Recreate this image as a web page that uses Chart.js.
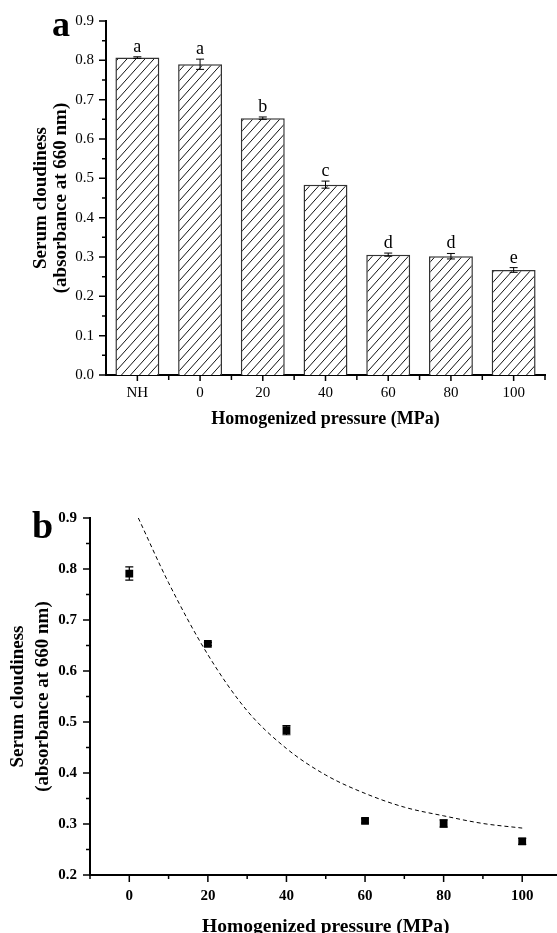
<!DOCTYPE html>
<html>
<head>
<meta charset="utf-8">
<script src="https://cdn.jsdelivr.net/npm/chart.js@4.4.1/dist/chart.umd.min.js"></script>
<style>
  html, body { margin: 0; padding: 0; background: #fff; overflow: hidden; }
  #wrap { position: relative; width: 557px; height: 933px; overflow: hidden; }
  canvas { position: absolute; left: 0; display: block; }
  #chartA { top: 0; }
  #chartB { top: 450px; }
</style>
</head>
<body>
<div id="wrap">
  <canvas id="chartA" width="557" height="450"></canvas>
  <canvas id="chartB" width="567" height="500"></canvas>
</div>
<script>
// panel a - bars
const categories = ['NH', '0', '20', '40', '60', '80', '100']
const cloudiness = [0.807, 0.790, 0.653, 0.484, 0.306, 0.302, 0.267]
const cloudinessErr = [0.002, 0.013, 0.003, 0.009, 0.004, 0.007, 0.006]
const letters = ['a', 'a', 'b', 'c', 'd', 'd', 'e']

// panel b - points + fitted curve
const pressure = [0, 20, 40, 60, 80, 100]
const cloudinessB = [0.791, 0.653, 0.484, 0.306, 0.301, 0.266]
const cloudinessBErr = [0.013, 0.003, 0.009, 0.004, 0.007, 0.006]
const fitX = [2.3, 10, 20, 30, 40, 50, 60, 70, 80, 90, 100]
const fitY = [0.900, 0.773, 0.632, 0.522, 0.448, 0.396, 0.360, 0.333, 0.316, 0.301, 0.292]
const pressureTicks = [0, 20, 40, 60, 80, 100]

const serif = "'Liberation Serif', 'Times New Roman', serif"

// hatch pattern for the bars
const tile = document.createElement('canvas')
tile.width = 9
tile.height = 10
const tctx = tile.getContext('2d')
tctx.fillStyle = '#fff'
tctx.fillRect(0, 0, 9, 10)
tctx.strokeStyle = '#111'
tctx.lineWidth = 1
tctx.beginPath()
tctx.moveTo(0, 10); tctx.lineTo(9, 0)
tctx.moveTo(-9, 10); tctx.lineTo(0, 0)
tctx.moveTo(9, 10); tctx.lineTo(18, 0)
tctx.stroke()

const ctxA = document.getElementById('chartA').getContext('2d')
const hatch = ctxA.createPattern(tile, 'repeat')

const line = (ctx, x1, y1, x2, y2) => { ctx.moveTo(x1, y1); ctx.lineTo(x2, y2) }

const decorA = {
  id: 'decorA',
  afterDatasetsDraw(chart) {
    const ctx = chart.ctx
    const xs = chart.scales.x, ys = chart.scales.y
    ctx.save()
    ctx.strokeStyle = '#000'
    ctx.lineWidth = 1.5
    ctx.beginPath()
    // y ticks
    for (let v = 0; v <= 9; v++) {
      const y = ys.getPixelForValue(v / 10)
      line(ctx, xs.left, y, xs.left - 7, y)
      if (v < 9) {
        const ym = ys.getPixelForValue(v / 10 + 0.05)
        line(ctx, xs.left, ym, xs.left - 4, ym)
      }
    }
    // x ticks
    categories.forEach((c, i) => {
      const x = xs.getPixelForValue(i)
      line(ctx, x, ys.bottom, x, ys.bottom + 6)
      const xb = xs.getPixelForValue(i + 0.5)
      line(ctx, xb, ys.bottom, xb, ys.bottom + 5)
    })
    ctx.stroke()

    // error bars + letters
    ctx.lineWidth = 1
    ctx.beginPath()
    cloudiness.forEach((v, i) => {
      const x = xs.getPixelForValue(i)
      const yt = ys.getPixelForValue(v + cloudinessErr[i])
      const yb = ys.getPixelForValue(v - cloudinessErr[i])
      line(ctx, x, yt, x, yb)
      line(ctx, x - 4, yt, x + 4, yt)
      line(ctx, x - 4, yb, x + 4, yb)
    })
    ctx.stroke()
    ctx.fillStyle = '#000'
    ctx.font = '18px ' + serif
    ctx.textAlign = 'center'
    ctx.textBaseline = 'alphabetic'
    letters.forEach((l, i) => {
      const x = xs.getPixelForValue(i)
      const yt = ys.getPixelForValue(cloudiness[i] + cloudinessErr[i])
      ctx.fillText(l, x, yt - 5)
    })
    // panel label
    ctx.textAlign = 'left'
    ctx.font = 'bold 36px ' + serif
    ctx.fillText('a', 52, 36)
    ctx.restore()
  }
}

new Chart(ctxA, {
  type: 'bar',
  data: {
    labels: categories,
    datasets: [{
      data: cloudiness,
      backgroundColor: hatch,
      borderColor: '#333',
      borderWidth: 1.5,
      barPercentage: 0.7,
      categoryPercentage: 1
    }]
  },
  options: {
    responsive: false,
    animation: false,
    layout: { padding: { top: 15, right: 12, left: 0, bottom: 0 } },
    plugins: { legend: { display: false }, tooltip: { enabled: false } },
    scales: {
      x: {
        grid: { display: false, drawTicks: false },
        border: { color: '#000', width: 2 },
        ticks: { color: '#000', font: { family: serif, size: 15 }, padding: 9 },
        title: {
          display: true, text: 'Homogenized pressure (MPa)', color: '#000',
          font: { family: serif, size: 18, weight: 'bold' },
          padding: { top: 0, bottom: 20 }
        },
        afterFit: s => { s.height = 75 }
      },
      y: {
        min: 0, max: 0.9,
        grid: { display: false, drawTicks: false },
        border: { color: '#000', width: 2 },
        ticks: {
          stepSize: 0.1, color: '#000', padding: 12,
          font: { family: serif, size: 15 },
          callback: v => v.toFixed(1)
        },
        title: {
          display: true, text: ['Serum cloudiness', '(absorbance at 660 nm)'], color: '#000',
          font: { family: serif, size: 19, weight: 'bold', lineHeight: 1.05 },
          padding: { top: 31, bottom: 0 }
        },
        afterFit: s => { s.width = 106 }
      }
    }
  },
  plugins: [decorA]
})

const decorB = {
  id: 'decorB',
  afterDatasetsDraw(chart) {
    const ctx = chart.ctx
    const xs = chart.scales.x, ys = chart.scales.y
    ctx.save()
    ctx.strokeStyle = '#000'
    ctx.lineWidth = 1.5
    ctx.beginPath()
    for (let v = 2; v <= 9; v++) {
      const y = ys.getPixelForValue(v / 10)
      line(ctx, xs.left, y, xs.left - 7, y)
      if (v < 9) {
        const ym = ys.getPixelForValue(v / 10 + 0.05)
        line(ctx, xs.left, ym, xs.left - 4, ym)
      }
    }
    for (let v = -10; v <= 110; v += 10) {
      const x = xs.getPixelForValue(v)
      line(ctx, x, ys.bottom, x, ys.bottom + (v % 20 === 0 ? 7 : 4))
    }
    ctx.stroke()

    ctx.lineWidth = 1.2
    ctx.beginPath()
    cloudinessB.forEach((v, i) => {
      const x = xs.getPixelForValue(pressure[i])
      const yt = ys.getPixelForValue(v + cloudinessBErr[i])
      const yb = ys.getPixelForValue(v - cloudinessBErr[i])
      line(ctx, x, yt, x, yb)
      line(ctx, x - 4, yt, x + 4, yt)
      line(ctx, x - 4, yb, x + 4, yb)
    })
    ctx.stroke()

    ctx.fillStyle = '#000'
    ctx.textAlign = 'left'
    ctx.textBaseline = 'alphabetic'
    ctx.font = 'bold 38px ' + serif
    ctx.fillText('b', 32, 88)
    ctx.restore()
  }
}

new Chart(document.getElementById('chartB').getContext('2d'), {
  type: 'scatter',
  data: {
    datasets: [
      {
        type: 'line',
        data: fitX.map((x, i) => ({ x: x, y: fitY[i] })),
        borderColor: '#000',
        borderWidth: 1,
        borderDash: [4, 3],
        pointRadius: 0,
        fill: false,
        cubicInterpolationMode: 'monotone'
      },
      {
        data: pressure.map((x, i) => ({ x: x, y: cloudinessB[i] })),
        pointStyle: 'rect',
        pointRadius: 5.5,
        backgroundColor: '#000',
        borderColor: '#000',
        borderWidth: 0
      }
    ]
  },
  options: {
    responsive: false,
    animation: false,
    layout: { padding: { top: 68, right: 5, left: 0, bottom: 0 } },
    plugins: { legend: { display: false }, tooltip: { enabled: false } },
    scales: {
      x: {
        type: 'linear', min: -10, max: 110,
        grid: { display: false, drawTicks: false },
        border: { color: '#000', width: 2 },
        afterBuildTicks: s => { s.ticks = pressureTicks.map(v => ({ value: v })) },
        ticks: { color: '#000', font: { family: serif, size: 15, weight: 'bold' }, padding: 12 },
        title: {
          display: true, text: 'Homogenized pressure (MPa)', color: '#000',
          font: { family: serif, size: 19.5, weight: 'bold' },
          padding: { top: 0, bottom: 11 }
        },
        afterFit: s => { s.height = 75 }
      },
      y: {
        min: 0.2, max: 0.9,
        grid: { display: false, drawTicks: false },
        border: { color: '#000', width: 2 },
        ticks: {
          stepSize: 0.1, color: '#000', padding: 13,
          font: { family: serif, size: 15, weight: 'bold' },
          callback: v => v.toFixed(1)
        },
        title: {
          display: true, text: ['Serum cloudiness', '(absorbance at 660 nm)'], color: '#000',
          font: { family: serif, size: 19, weight: 'bold', lineHeight: 1.29 },
          padding: { top: 6, bottom: 0 }
        },
        afterFit: s => { s.width = 90 }
      }
    }
  },
  plugins: [decorB]
})
</script>
</body>
</html>
